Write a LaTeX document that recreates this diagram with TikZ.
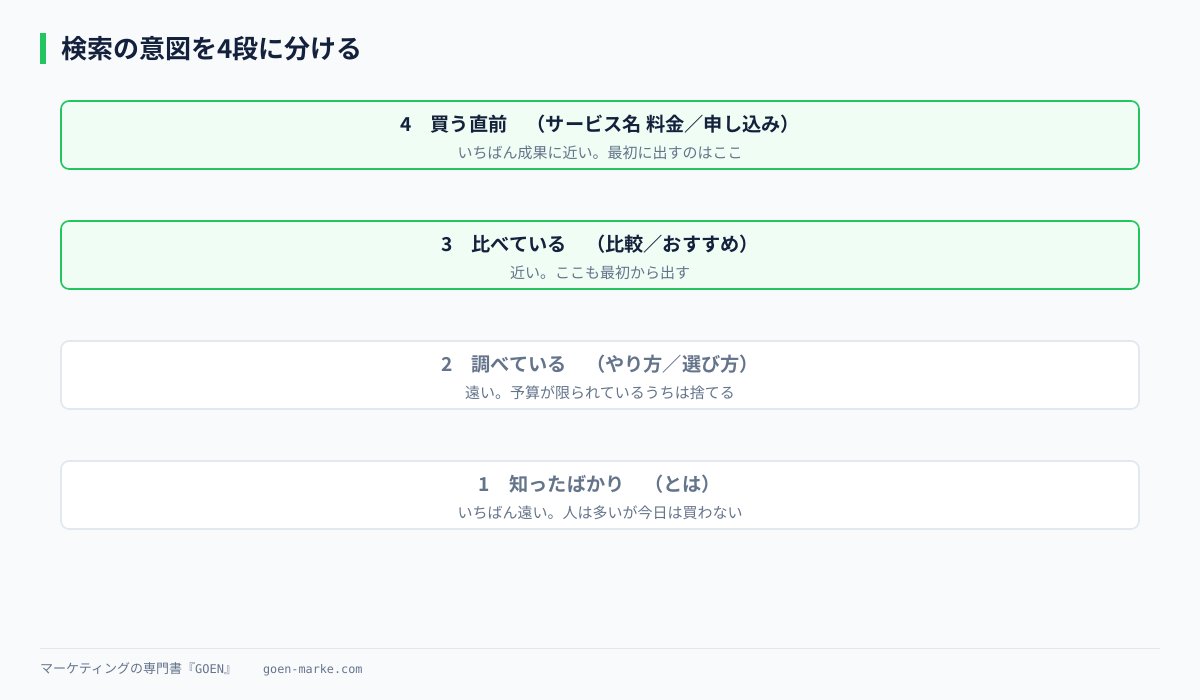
\documentclass[tikz,border=0pt]{standalone}
\usepackage{fontspec}
\setmainfont{Noto Sans CJK JP}[BoldFont={Noto Sans CJK JP Bold}]
\newfontfamily\monofont{DejaVu Sans Mono}
\definecolor{pagebg}{HTML}{F8FAFC}
\definecolor{goodgreen}{HTML}{22C55E}
\definecolor{goodfill}{HTML}{F0FDF4}
\definecolor{coldline}{HTML}{E2E8F0}
\definecolor{inkdark}{HTML}{14213D}
\definecolor{inkgray}{HTML}{64748B}
\begin{document}
\begin{tikzpicture}[x=1pt,y=-1pt,node distance=120pt,
  hot box/.style={draw=goodgreen,fill=goodfill,line width=1.6pt,rounded corners=8pt,
    minimum width=1078pt,minimum height=68pt,inner sep=0pt},
  cold box/.style={hot box,draw=coldline,fill=white},
  head text/.style={font=\fontsize{19.2}{21}\selectfont\bfseries,text=inkdark,yshift=10.5pt},
  cold head/.style={head text,text=inkgray},
  sub text/.style={font=\fontsize{15}{17}\selectfont,text=inkgray,yshift=-17.5pt}]

  % page and title
  \fill[pagebg] (0,0) rectangle (1200,700);
  \useasboundingbox (0,0) rectangle (1200,700);
  \fill[goodgreen] (40,33) rectangle (46,64);
  \node[anchor=west,inner sep=0pt,text=inkdark,font=\fontsize{26}{28}\selectfont\bfseries]
    (title) at (61,49) {検索の意図を4段に分ける};

  % four steps
  \node[hot box] (s4) at (600,135) {};
  \node[hot box] (s3) [below of=s4] {};
  \node[cold box] (s2) [below of=s3] {};
  \node[cold box] (s1) [below of=s2] {};

  \node[head text] (h4) at (s4.center) {4　買う直前　（サービス名 料金／申し込み）};
  \node[sub text]  (t4) at (s4.center) {いちばん成果に近い。最初に出すのはここ};
  \node[head text] (h3) at (s3.center) {3　比べている　（比較／おすすめ）};
  \node[sub text]  (t3) at (s3.center) {近い。ここも最初から出す};
  \node[cold head] (h2) at (s2.center) {2　調べている　（やり方／選び方）};
  \node[sub text]  (t2) at (s2.center) {遠い。予算が限られているうちは捨てる};
  \node[cold head] (h1) at (s1.center) {1　知ったばかり　（とは）};
  \node[sub text]  (t1) at (s1.center) {いちばん遠い。人は多いが今日は買わない};

  % footer
  \coordinate (fl) at (40,648);
  \coordinate (fr) at (1160,648);
  \draw[coldline,line width=1pt] (fl) -- (fr);
  \node[anchor=west,inner sep=0pt,text=inkgray,font=\fontsize{13}{15}\selectfont]
    (foot) at (40,669) {マーケティングの専門書『{\monofont\fontsize{12}{14}\selectfont GOEN}』\hspace{26pt}{\monofont\fontsize{11.8}{14}\selectfont goen-marke.com}};
\end{tikzpicture}
\end{document}
